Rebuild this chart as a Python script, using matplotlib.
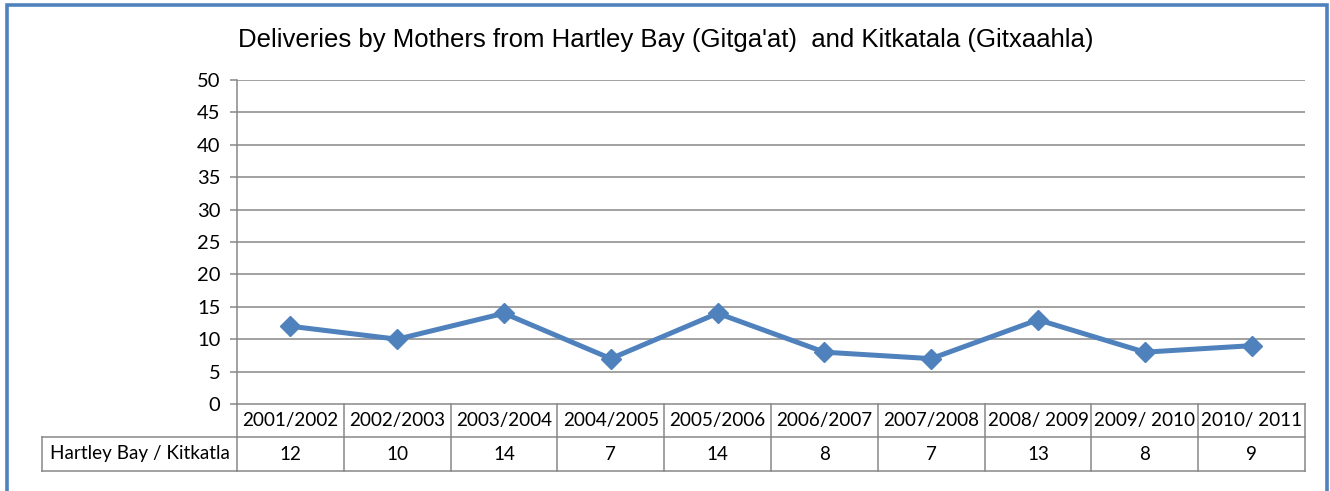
import matplotlib.pyplot as plt
from matplotlib.patches import Rectangle
from matplotlib.lines import Line2D

seasons = ["2001/2002", "2002/2003", "2003/2004", "2004/2005", "2005/2006",
           "2006/2007", "2007/2008", "2008/ 2009", "2009/ 2010", "2010/ 2011"]
deliveries = [12, 10, 14, 7, 14, 8, 7, 13, 8, 9]
series_name = "Hartley Bay / Kitkatla"
title = "Deliveries by Mothers from Hartley Bay (Gitga'at)  and Kitkatala (Gitxaahla)"
yticks = list(range(0, 51, 5))

LINE_BLUE = "#4F81BD"
GRID_GREY = "#878787"
TXT_FONT = "Lato"
TXT_SIZE = 13.6

W, H = 1330, 491
fig = plt.figure(figsize=(W / 100, H / 100), dpi=100)

# plot area in pixel terms of the reference
x0, x1, y_top, y_bot = 237, 1305, 80, 404
ax = fig.add_axes([x0 / W, 1 - y_bot / H, (x1 - x0) / W, (y_bot - y_top) / H])

xs = list(range(len(seasons)))
ax.plot(xs, deliveries, color=LINE_BLUE, linewidth=3.6, marker="D",
        markersize=10.5, markerfacecolor=LINE_BLUE, markeredgecolor=LINE_BLUE,
        zorder=5, clip_on=False)

ax.set_xlim(-0.5, len(seasons) - 0.5)
ax.set_ylim(0, 50)
ax.set_yticks(yticks)
ax.set_xticks([])
for t in yticks[1:]:
    ax.axhline(t, color=GRID_GREY, linewidth=1.1, zorder=1)

for side in ["top", "right", "bottom"]:
    ax.spines[side].set_visible(False)
ax.spines["left"].set_color(GRID_GREY)
ax.spines["left"].set_linewidth(1.1)
ax.tick_params(axis="y", length=5, width=1.1, color=GRID_GREY, pad=7,
               labelsize=14.5)
for lab in ax.get_yticklabels():
    lab.set_fontfamily(TXT_FONT)

# data table under the axis
ph = y_bot - y_top
r1 = (437 - y_bot) / ph
r2 = (471 - y_bot) / ph
tr = ax.get_xaxis_transform()
lw = 1.1
for yy in [0, -r1, -r2]:
    ax.add_line(Line2D([-0.5, len(seasons) - 0.5], [yy, yy], transform=tr,
                       color=GRID_GREY, linewidth=lw, clip_on=False))
for i in range(len(seasons) + 1):
    ax.add_line(Line2D([i - 0.5, i - 0.5], [0, -r2], transform=tr,
                       color=GRID_GREY, linewidth=lw, clip_on=False))
for i, (s, v) in enumerate(zip(seasons, deliveries)):
    ax.text(i, -r1 / 2, s, transform=tr, ha="center", va="center",
            fontsize=TXT_SIZE, family=TXT_FONT)
    ax.text(i, -(r1 + r2) / 2, str(v), transform=tr, ha="center",
            va="center", fontsize=TXT_SIZE, family=TXT_FONT)

# row label cell
cw = (x1 - x0) / len(seasons)
left = -0.5 - (x0 - 42) / cw
for yy in [-r1, -r2]:
    ax.add_line(Line2D([left, -0.5], [yy, yy], transform=tr,
                       color=GRID_GREY, linewidth=lw, clip_on=False))
ax.add_line(Line2D([left, left], [-r1, -r2], transform=tr,
                   color=GRID_GREY, linewidth=lw, clip_on=False))
ax.text(-0.5 - (x0 - 42) / cw / 2, -(r1 + r2) / 2, series_name,
        transform=tr, ha="center", va="center", fontsize=TXT_SIZE,
        family=TXT_FONT)

fig.text(666 / W, 1 - 40 / H, title, ha="center", va="center",
         fontsize=18.5, family="Liberation Sans")

# outer chart border (bottom edge is cut off in the reference)
fig.add_artist(Rectangle((6.5 / W, -0.05), (1327 - 6.5) / W, 1.05 - 4.5 / H,
                         transform=fig.transFigure, fill=False,
                         edgecolor="#4F81BD", linewidth=2.6))

fig.savefig("out.png", dpi=100)
